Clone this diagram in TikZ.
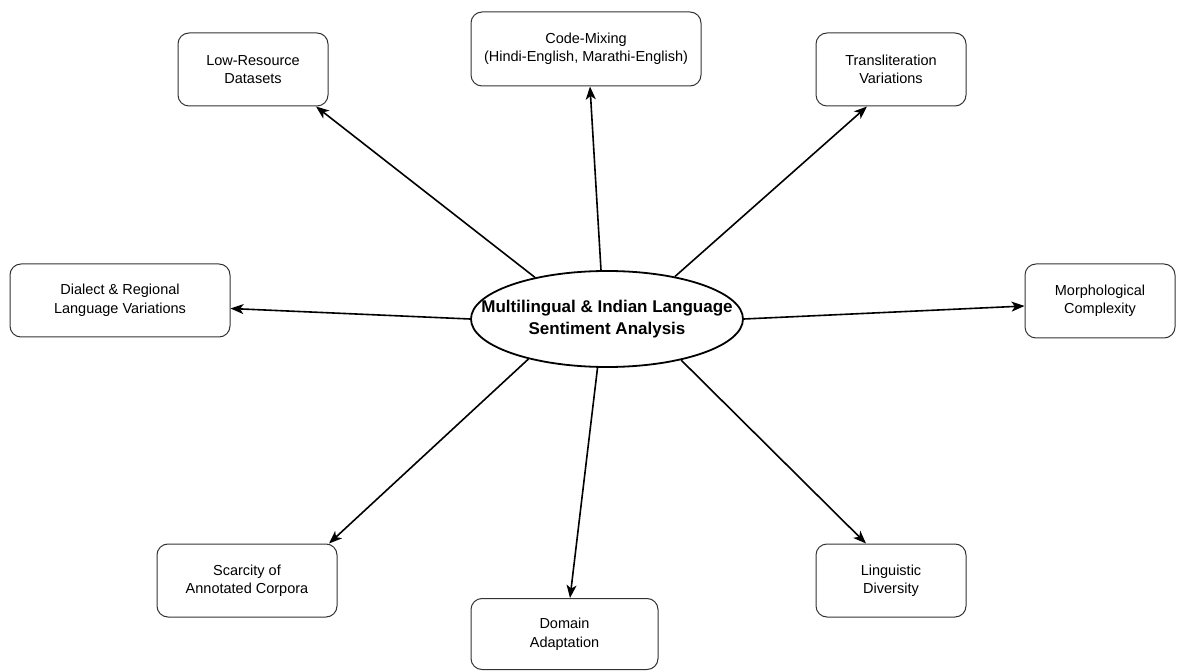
\documentclass[tikz,border=0pt]{standalone}
\usepackage{fontspec}
\setmainfont{Liberation Sans}
\usetikzlibrary{arrows.meta,calc,shapes.geometric}
\begin{document}
\begin{tikzpicture}[x=1pt,y=1pt,
  box/.style={draw=black!80, line width=1pt, rounded corners=11pt, align=center,
    inner sep=0pt, font=\fontsize{14.5}{18.5}\selectfont},
  hub/.style={ellipse, draw=black, line width=1.8pt, minimum width=272pt,
    minimum height=96pt, inner sep=0pt},
  hubtext/.style={align=center, inner sep=0pt, font=\fontsize{17}{22}\selectfont\bfseries},
  link/.style={line width=1.6pt, -{Stealth[length=13pt,width=10pt,inset=3.5pt]}}]
\useasboundingbox (0,0) rectangle (1202,670);

% central topic
\node[hub] (c) at (607,351) {};
\node[hubtext] (ct) at (c.center) {Multilingual \& Indian Language\\Sentiment Analysis};

% surrounding challenges
\node[box, minimum width=150pt, minimum height=73pt] (lr) at (253,600.5) {Low-Resource\\Datasets};
\node[box, minimum width=230pt, minimum height=74pt] (cm) at (586,621) {Code-Mixing\\(Hindi-English, Marathi-English)};
\node[box, minimum width=150pt, minimum height=73pt] (tv) at (891,600.5) {Transliteration\\Variations};
\node[box, minimum width=220pt, minimum height=73pt] (dr) at (120,369.5) {Dialect \& Regional\\Language Variations};
\node[box, minimum width=150pt, minimum height=74pt] (mc) at (1100,369) {Morphological\\Complexity};
\node[box, minimum width=180pt, minimum height=73pt] (sc) at (247,89.5) {Scarcity of\\Annotated Corpora};
\node[box, minimum width=187pt, minimum height=71pt] (da) at (564.5,36) {Domain\\Adaptation};
\node[box, minimum width=150pt, minimum height=73pt] (ld) at (891,89.5) {Linguistic\\Diversity};

% connectors
\draw[link] (c.150.5) -- ($(lr.south)+(63,0)$);
\draw[link] (c.97.3) -- ($(cm.south)+(4,0)$);
\draw[link] (c.32) -- ($(tv.south)+(-24,0)$);
\draw[link] (c.180) -- ($(dr.east)+(0,-8)$);
\draw[link] (c.0) -- ($(mc.west)+(0,-5)$);
\draw[link] (c.207.2) -- ($(sc.north)+(82,0)$);
\draw[link] (c.259.1) -- ($(da.north)+(5.5,0)$);
\draw[link] (c.-29) -- ($(ld.north)+(-25,0)$);
\end{tikzpicture}
\end{document}
